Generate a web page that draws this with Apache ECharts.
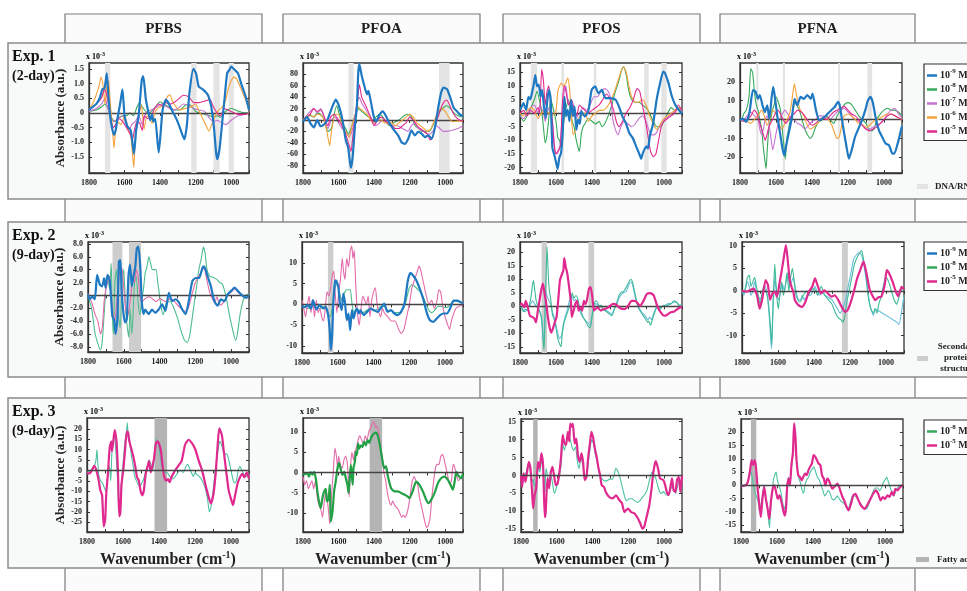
<!DOCTYPE html>
<html><head><meta charset="utf-8">
<script src="https://cdn.jsdelivr.net/npm/echarts@6/dist/echarts.min.js"></script>
<style>html,body{margin:0;padding:0;background:#fff}#chart{width:967px;height:591px}</style>
</head><body><div id="chart"></div><script>
// ---------- axis ticks ----------
const wavenumberLabels = [1800, 1600, 1400, 1200, 1000];
const wavenumberTicks = [1800, 1700, 1600, 1500, 1400, 1300, 1200, 1100, 1000, 900];
const compounds = ['PFBS', 'PFOA', 'PFOS', 'PFNA'];
const experiments = [['Exp. 1', '(2-day)'], ['Exp. 2', '(9-day)'], ['Exp. 3', '(9-day)']];
const bandKeys = ['DNA/RNA', 'Secondary\nprotein\nstructure', 'Fatty acids'];

const ticksE1PFBS = [-1.5, -1, -0.5, 0, 0.5, 1, 1.5];
const ticksE1PFOA = [-80, -60, -40, -20, 0, 20, 40, 60, 80];
const ticksE1PFOS = [-20, -15, -10, -5, 0, 5, 10, 15];
const ticksE1PFNA = [-20, -10, 0, 10, 20];
const ticksE2PFBS = [-8, -6, -4, -2, 0, 2, 4, 6, 8];
const ticksE2PFOA = [-10, -5, 0, 5, 10];
const ticksE2PFOS = [-15, -10, -5, 0, 5, 10, 15, 20];
const ticksE2PFNA = [-10, -5, 0, 5, 10];
const ticksE3PFBS = [-25, -20, -15, -10, -5, 0, 5, 10, 15, 20];
const ticksE3PFOA = [-10, -5, 0, 5, 10];
const ticksE3PFOS = [-15, -10, -5, 0, 5, 10, 15];
const ticksE3PFNA = [-15, -10, -5, 0, 5, 10, 15, 20];

// ---------- highlighted wavenumber bands ----------
const bandsE1PFBS = [[1710, 1680], [1225, 1195], [1100, 1065], [1015, 985]];
const bandsE1PFOA = [[1545, 1515], [1035, 975]];
const bandsE1PFOS = [[1740, 1705], [1570, 1555], [1390, 1375], [1110, 1085], [1015, 985]];
const bandsE1PFNA = [[1710, 1698], [1562, 1550], [1255, 1244], [1092, 1066]];
const bandsE2PFBS = [[1663, 1608], [1571, 1503]];
const bandsE2PFOA = [[1655, 1625]];
const bandsE2PFOS = [[1680, 1650], [1420, 1388]];
const bandsE2PFNA = [[1245, 1212]];
const bandsE3PFBS = [[1425, 1355]];
const bandsE3PFOA = [[1425, 1355]];
const bandsE3PFOS = [[1732, 1707]];
const bandsE3PFNA = [[1745, 1715]];

// ---------- Exp. 1 (2-day) spectra, [wavenumber, absorbance x1e-3] ----------
const e1PFBS_9 = [[1800,0.1],[1780,0.2],[1760,0.3],[1740,0.5],[1725,0.8],[1712,0.85],[1700,1.35],[1690,0.5],[1678,-0.25],[1660,-0.75],[1650,-0.6],[1640,-0.2],[1625,0.3],[1612,0.8],[1600,-0.1],[1585,-0.45],[1565,-0.6],[1547,-1.4],[1535,-0.6],[1521,-0.1],[1503,1.13],[1495,1.25],[1480,0.45],[1465,0],[1455,-0.25],[1445,-0.05],[1438,-0.3],[1428,-0.2],[1408,-1.35],[1386,0.1],[1367,0.45],[1348,0.28],[1330,0.05],[1311,-0.17],[1292,-0.45],[1264,-0.9],[1250,-0.45],[1235,0.68],[1213,1.5],[1198,1.35],[1183,0.9],[1160,0.8],[1132,0.62],[1113,0.23],[1098,-0.45],[1085,-1.35],[1079,-1.58],[1066,-1.24],[1051,-0.34],[1038,0.45],[1023,1.35],[1010,1.47],[1000,1.58],[981,1.47],[962,1.35],[944,1.0],[919,0.56],[900,0.1]];
const e1PFBS_8 = [[1800,0.05],[1760,0.1],[1730,0.2],[1710,0.3],[1690,0.1],[1670,-0.2],[1650,-0.3],[1630,-0.15],[1610,-0.1],[1590,-0.1],[1570,0],[1550,-0.1],[1530,0.2],[1515,0.35],[1500,0.2],[1480,0.05],[1460,0],[1440,0.1],[1420,0.25],[1400,0.38],[1380,0.3],[1350,0.2],[1320,0.1],[1290,0.1],[1260,0.25],[1240,0.3],[1220,0.2],[1200,0.05],[1180,0],[1150,-0.05],[1120,-0.1],[1100,-0.15],[1080,-0.1],[1060,-0.15],[1040,0],[1020,0.1],[1000,0.15],[970,0.08],[940,0.02],[900,0]];
const e1PFBS_7 = [[1800,0.05],[1760,0.15],[1730,0.3],[1710,0.5],[1700,0.3],[1680,-0.1],[1660,-0.3],[1640,-0.2],[1600,-0.1],[1575,-0.6],[1560,-0.4],[1540,-0.3],[1520,-0.1],[1500,-0.4],[1480,0],[1450,0.1],[1420,0.2],[1390,0.3],[1360,0.2],[1330,0.1],[1300,0.15],[1270,0.3],[1240,0.25],[1210,0.15],[1180,0.1],[1150,0.05],[1120,-0.2],[1100,-0.3],[1080,-0.25],[1050,-0.35],[1030,-0.4],[1000,-0.25],[960,-0.1],[920,-0.05],[900,0]];
const e1PFBS_6 = [[1800,0.1],[1780,0.3],[1760,0.6],[1740,1.0],[1732,1.22],[1720,0.9],[1710,0.3],[1700,0.9],[1690,1.1],[1680,0.3],[1668,-0.5],[1660,-1.2],[1650,-0.6],[1640,-0.3],[1620,-0.4],[1600,-0.1],[1585,-0.5],[1565,-0.8],[1548,-1.86],[1540,-0.8],[1525,-0.2],[1505,0.25],[1490,-0.55],[1475,-0.1],[1460,-0.2],[1445,-0.35],[1430,0],[1415,0.15],[1400,0.2],[1380,0.25],[1360,0.55],[1345,0.62],[1330,0.4],[1310,0.2],[1290,0.1],[1260,0.15],[1230,0.2],[1200,0.3],[1180,0.05],[1160,-0.2],[1140,-0.45],[1125,-0.62],[1110,-0.4],[1090,-0.1],[1070,0.1],[1050,0.2],[1030,0.45],[1015,0.85],[1000,1.1],[985,1.22],[970,1.15],[950,0.9],[930,0.6],[910,0.3],[900,0.15]];
const e1PFBS_5 = [[1800,0.1],[1760,0.3],[1730,0.5],[1712,0.8],[1700,0.6],[1690,0.3],[1680,-0.1],[1665,-0.5],[1650,-0.4],[1630,-0.2],[1610,-0.3],[1590,-0.5],[1570,-0.7],[1555,-0.9],[1545,-0.6],[1530,-0.3],[1515,-0.35],[1500,-0.6],[1490,-0.1],[1470,-0.2],[1450,-0.1],[1430,0.15],[1410,0.3],[1390,0.25],[1370,0.35],[1340,0.3],[1300,0.45],[1270,0.6],[1240,0.55],[1210,0.35],[1180,0.35],[1150,0.4],[1120,0.45],[1100,0.2],[1080,0],[1060,-0.1],[1040,0.15],[1020,0.1],[1000,0.05],[960,-0.05],[920,-0.05],[900,0]];

const e1PFOA_9 = [[1800,-3],[1777,5],[1758,-6],[1739,-13],[1720,0],[1701,-11],[1682,-8],[1663,0],[1645,15],[1626,30],[1616,36],[1597,24],[1578,0],[1559,-36],[1546,-48],[1531,-84],[1521,-66],[1508,-12],[1497,24],[1489,84],[1483,98],[1470,78],[1455,60],[1440,45],[1432,51],[1417,30],[1402,6],[1389,-3],[1370,9],[1351,15],[1332,6],[1313,-6],[1294,-15],[1265,-27],[1246,-39],[1227,-42],[1208,-33],[1190,-18],[1171,-27],[1152,-21],[1133,-24],[1114,-30],[1095,-27],[1076,-33],[1057,-12],[1038,24],[1023,48],[1009,57],[990,54],[971,39],[952,21],[933,15],[915,9],[900,7]];
const e1PFOA_8 = [[1800,0],[1760,8],[1740,5],[1720,12],[1700,10],[1680,0],[1660,-20],[1640,-15],[1625,10],[1610,25],[1600,15],[1580,-5],[1560,-15],[1545,-25],[1530,-15],[1515,0],[1500,15],[1485,20],[1470,15],[1450,10],[1430,5],[1410,0],[1390,5],[1370,10],[1350,5],[1330,-5],[1310,-10],[1290,-5],[1260,0],[1230,8],[1210,10],[1190,5],[1170,-10],[1150,-15],[1130,-20],[1110,-20],[1090,-20],[1070,-10],[1050,5],[1030,15],[1010,22],[990,25],[970,20],[950,12],[930,8],[900,5]];
const e1PFOA_7 = [[1800,0],[1760,15],[1740,20],[1720,12],[1700,20],[1680,5],[1660,-15],[1640,0],[1620,5],[1600,-5],[1580,-15],[1560,-20],[1540,-30],[1525,-20],[1510,0],[1495,30],[1483,40],[1470,30],[1450,20],[1430,10],[1410,0],[1390,-10],[1370,-5],[1350,0],[1330,-5],[1300,-10],[1270,-10],[1240,-15],[1210,-20],[1190,-10],[1170,-5],[1150,-15],[1120,-20],[1090,-25],[1070,-20],[1050,-10],[1030,-15],[1010,-20],[990,-20],[960,-18],[930,-15],[900,-10]];
const e1PFOA_6 = [[1800,0],[1760,10],[1740,5],[1720,10],[1700,8],[1680,0],[1660,-30],[1650,-45],[1640,-20],[1620,10],[1600,10],[1580,-10],[1560,-20],[1540,-30],[1525,-10],[1505,10],[1495,25],[1480,20],[1460,15],[1440,10],[1420,0],[1400,-5],[1380,0],[1360,0],[1340,-5],[1320,-5],[1300,-5],[1280,-10],[1260,-5],[1240,0],[1220,5],[1200,10],[1180,5],[1160,-5],[1140,-10],[1120,-15],[1100,-20],[1080,-15],[1060,0],[1040,15],[1020,20],[1000,15],[980,5],[960,-3],[930,-2],[900,-2]];
const e1PFOA_5 = [[1800,0],[1760,10],[1740,20],[1720,15],[1700,18],[1680,5],[1660,-10],[1645,5],[1625,10],[1600,0],[1580,-10],[1560,-25],[1545,-40],[1530,-55],[1520,-30],[1505,10],[1490,45],[1483,62],[1470,40],[1455,30],[1440,20],[1420,5],[1400,-10],[1380,0],[1360,5],[1340,0],[1320,-5],[1300,-10],[1280,-15],[1260,-15],[1240,-10],[1220,-5],[1200,5],[1180,0],[1160,-10],[1140,-15],[1120,-20],[1100,-25],[1085,-35],[1070,-30],[1055,-10],[1040,5],[1025,20],[1010,30],[995,35],[980,30],[960,15],[940,5],[920,0],[900,-2]];

const e1PFOS_9 = [[1800,1.2],[1790,2.4],[1781,3.7],[1766,1.2],[1753,6],[1743,5],[1734,7.3],[1724,10.4],[1715,14],[1705,9.8],[1696,10.5],[1686,6],[1677,8.5],[1667,2.4],[1658,-1.8],[1648,4.9],[1639,8.5],[1630,5.5],[1620,-12.8],[1610,-15.2],[1601,-17.7],[1591,-20.5],[1582,-16.5],[1572,-14.6],[1563,-7.3],[1553,6],[1544,-1.2],[1535,1.2],[1525,-3],[1516,4.9],[1506,-1.2],[1497,2.4],[1487,-6.1],[1478,-2.4],[1468,-4],[1459,0.6],[1440,-1.2],[1421,0.6],[1402,8.5],[1383,9.8],[1364,7.3],[1345,8.5],[1326,5.5],[1298,5.5],[1269,4.9],[1250,2.4],[1231,-1.2],[1212,-3.7],[1193,-7.3],[1174,-9.1],[1155,-12.2],[1136,-15.2],[1127,-16.8],[1117,-14.6],[1098,-12.2],[1089,-13],[1079,-8.5],[1060,-3.7],[1041,4.9],[1022,11],[1004,15.2],[994,14.6],[975,11],[956,6.1],[937,3],[918,1.2],[900,-0.2]];
const e1PFOS_8 = [[1800,0],[1790,-2],[1780,-3],[1760,-1],[1740,2],[1720,5],[1705,8],[1690,4],[1680,1],[1670,-5],[1660,-11],[1650,-8],[1640,-2],[1630,5],[1620,3],[1600,-3],[1590,-9],[1580,-10],[1570,-13],[1560,-5],[1550,0],[1540,3],[1530,5],[1520,0],[1510,-3],[1500,-5],[1490,-9],[1480,-12],[1470,-14],[1460,-8],[1450,-5],[1440,-4],[1420,-2],[1400,-3],[1380,-4],[1360,-3],[1345,-5],[1330,-4],[1310,-1],[1290,3],[1270,8],[1250,12],[1235,16],[1225,17],[1210,14],[1195,8],[1180,5],[1160,4],[1140,4],[1120,3],[1100,2],[1080,0],[1060,-3],[1040,-5],[1020,-5],[1000,-3],[980,0],[960,2],[940,1],[920,2],[900,0]];
const e1PFOS_7 = [[1800,-1],[1780,-2],[1760,0],[1740,2],[1720,3],[1700,0],[1690,3],[1670,0],[1660,-3],[1640,2],[1620,-3],[1605,-14],[1595,-15],[1580,-13],[1570,-5],[1555,8],[1545,10],[1535,5],[1520,2],[1500,0],[1490,-2],[1470,0],[1450,2],[1430,1],[1410,3],[1390,6],[1370,6],[1350,8],[1330,9],[1310,8],[1295,5],[1285,-2],[1270,-6],[1255,-8],[1240,-5],[1220,-3],[1200,-4],[1180,-5],[1160,-4],[1140,-2],[1120,-1],[1100,-3],[1085,-6],[1070,-8],[1055,-8],[1040,-7],[1025,-5],[1010,-3],[990,-2],[970,-1],[950,0],[930,1],[915,2],[900,0]];
const e1PFOS_6 = [[1800,0],[1780,-1],[1760,1],[1740,2],[1720,1],[1700,-2],[1680,0],[1660,1],[1640,0],[1620,-1],[1600,1],[1590,8],[1580,10],[1570,11],[1560,10],[1545,11],[1535,13],[1525,9],[1515,0],[1505,-8],[1490,-6],[1475,-2],[1460,-1],[1440,0],[1420,-3],[1400,-1],[1380,0],[1360,1],[1340,1],[1320,2],[1300,4],[1280,7],[1260,11],[1240,15],[1225,17],[1210,15],[1195,10],[1180,6],[1160,4],[1140,4],[1120,5],[1100,3],[1080,-1],[1060,-4],[1040,-6],[1020,-4],[1000,-2],[980,-1],[960,0],[940,1],[920,2],[900,1]];
const e1PFOS_5 = [[1800,0],[1780,1],[1760,-1],[1740,1],[1720,0],[1700,2],[1690,0],[1680,16],[1670,12],[1660,3],[1650,8],[1640,10],[1630,3],[1620,-3],[1610,-12],[1600,-15],[1590,-14],[1575,-12],[1565,3],[1555,10],[1545,8],[1530,3],[1515,5],[1500,2],[1485,-1],[1470,3],[1455,2],[1440,1],[1420,0],[1400,1],[1380,2],[1360,3],[1340,5],[1320,7],[1300,5],[1280,1],[1265,-3],[1250,-5],[1230,-3],[1210,0],[1190,2],[1170,5],[1150,9],[1135,8],[1120,3],[1105,-2],[1090,-8],[1075,-14],[1060,-16],[1045,-15],[1030,-10],[1015,-5],[1000,-3],[980,-2],[960,-1],[940,0],[920,3],[900,1]];

const e1PFNA_9 = [[1800,-0.4],[1785,0.5],[1766,-1.2],[1747,4],[1728,15.6],[1713,14.7],[1700,11],[1690,13],[1675,7.6],[1662,4],[1649,7.6],[1637,0.5],[1624,12],[1615,17.3],[1605,11],[1592,1.4],[1577,-7.4],[1564,-15.4],[1554,-19],[1545,-14.5],[1530,-7.4],[1511,1.4],[1497,11],[1482,7.6],[1463,12],[1445,11],[1426,13],[1407,11],[1397,13.8],[1378,5],[1359,-0.4],[1331,1.4],[1312,3.2],[1293,5],[1274,6.7],[1255,9.4],[1246,7.6],[1227,-3.9],[1208,-14.5],[1195,-20.7],[1180,-16.3],[1161,-9.2],[1142,-4.8],[1123,-0.4],[1104,5],[1089,10.3],[1076,12],[1063,9.4],[1047,1.4],[1028,-5.7],[1010,-9.2],[991,-12.7],[972,-13.6],[953,-18],[943,-18],[924,-12.7],[906,-5.7],[900,-3.5]];
const e1PFNA_8 = [[1800,0],[1790,0],[1780,3],[1765,5],[1750,12],[1740,27],[1730,25],[1720,15],[1710,8],[1700,5],[1690,0],[1680,-5],[1670,-15],[1660,-23],[1655,-26],[1648,-15],[1640,-5],[1630,0],[1620,5],[1610,8],[1600,12],[1590,10],[1575,5],[1565,-5],[1555,-15],[1548,-21],[1540,-10],[1530,-5],[1520,0],[1505,5],[1495,10],[1485,8],[1470,5],[1455,0],[1440,-5],[1425,-8],[1410,-10],[1395,-8],[1380,-4],[1360,-1],[1340,0],[1320,2],[1300,0],[1280,-2],[1260,2],[1240,5],[1220,8],[1200,9],[1180,8],[1160,5],[1140,2],[1120,0],[1100,-2],[1085,-5],[1070,-6],[1055,-5],[1040,0],[1020,3],[1000,5],[980,6],[960,5],[940,5],[920,4],[900,2]];
const e1PFNA_7 = [[1800,0],[1780,0],[1760,2],[1740,4],[1720,2],[1700,0],[1690,-5],[1680,-8],[1670,-5],[1660,0],[1650,2],[1635,-5],[1625,-12],[1618,-16],[1605,-10],[1595,-5],[1580,0],[1565,3],[1550,5],[1535,3],[1520,1],[1500,0],[1480,-2],[1460,-3],[1440,-5],[1420,-3],[1400,-1],[1380,0],[1360,2],[1340,2],[1320,1],[1300,0],[1280,2],[1260,4],[1240,5],[1220,6],[1200,4],[1180,2],[1160,0],[1140,-1],[1120,-3],[1100,-5],[1080,-5],[1060,-4],[1040,-3],[1020,-2],[1000,0],[980,3],[960,5],[940,6],[920,3],[900,1]];
const e1PFNA_6 = [[1800,0],[1780,0],[1760,-1],[1740,-2],[1720,0],[1700,2],[1680,5],[1665,2],[1650,-3],[1635,0],[1620,5],[1600,3],[1580,-3],[1570,-5],[1555,-3],[1540,0],[1525,3],[1515,8],[1505,15],[1498,19],[1490,15],[1480,10],[1465,5],[1450,3],[1430,-2],[1410,-5],[1390,-4],[1370,-2],[1350,0],[1330,1],[1310,0],[1290,-3],[1275,-7],[1260,-10],[1248,-9],[1235,-3],[1220,2],[1200,3],[1180,2],[1160,0],[1140,-2],[1120,-3],[1100,-4],[1080,-3],[1060,-1],[1040,0],[1020,1],[1000,2],[980,3],[960,3],[940,2],[920,1],[900,0]];
const e1PFNA_5 = [[1800,0],[1780,-1],[1760,0],[1740,2],[1720,5],[1705,3],[1690,-2],[1680,-5],[1670,-8],[1660,-11],[1650,-8],[1640,-4],[1630,-2],[1620,0],[1605,3],[1590,5],[1575,3],[1560,0],[1545,-2],[1530,0],[1515,2],[1500,3],[1480,5],[1460,4],[1440,2],[1420,-1],[1400,-3],[1380,-2],[1360,0],[1340,1],[1320,0],[1300,2],[1280,4],[1260,5],[1240,6],[1220,7],[1200,5],[1180,3],[1160,2],[1140,0],[1120,-3],[1100,-5],[1080,-6],[1060,-5],[1040,-4],[1020,-2],[1000,0],[980,2],[960,3],[940,2],[920,1],[900,0]];

// ---------- Exp. 2 (9-day) spectra ----------
const e2PFBS_9 = [[1800,0.15],[1791,-0.6],[1777,-0.2],[1762,-0.6],[1749,3.2],[1734,1.7],[1721,1.4],[1710,2.7],[1702,1.2],[1691,3.2],[1678,2.2],[1664,-3.2],[1653,-3.9],[1646,-6],[1636,-3.7],[1627,5.3],[1619,5.5],[1612,0.7],[1602,-2.7],[1593,-4.2],[1583,-3.7],[1574,3],[1565,4.8],[1555,1.4],[1546,3],[1536,4.3],[1527,7.3],[1518,7.6],[1508,4.5],[1499,-1.1],[1489,-2.9],[1480,-2.2],[1461,-2.9],[1442,-2.2],[1424,-2.7],[1405,-2.2],[1386,-1.4],[1367,-2.4],[1348,0.4],[1330,-0.9],[1311,-0.6],[1292,-1.1],[1273,-2.2],[1254,-2.9],[1235,-0.6],[1217,2.2],[1198,2.7],[1179,2.7],[1160,4.3],[1151,4.5],[1132,3],[1113,1.4],[1094,-0.9],[1075,-1.6],[1057,-0.6],[1038,-0.9],[1019,0.15],[1000,0.7],[981,1.2],[962,0.7],[944,0.15],[915,-0.4],[900,0]];
const e2PFBS_8 = [[1800,0],[1790,-1],[1780,-2],[1770,-4],[1760,-6],[1745,-7.5],[1730,-8.5],[1720,-7],[1710,-3],[1700,1],[1690,3],[1680,1],[1670,5],[1665,-2],[1658,-6],[1650,2],[1640,4],[1630,-3],[1620,-5],[1610,2],[1600,4],[1590,-2],[1580,-5],[1572,-6.5],[1565,-2],[1555,-6],[1548,-3],[1540,2],[1530,3],[1520,-1],[1510,-3],[1500,-1],[1490,1],[1480,3.5],[1470,4.5],[1460,6],[1450,5],[1440,4],[1420,4],[1410,2],[1400,0],[1390,-2],[1380,-3],[1370,-2],[1360,-1],[1340,-1],[1320,-2],[1300,-3.5],[1280,-5.5],[1260,-7],[1245,-7.3],[1230,-6],[1215,-3],[1200,0],[1190,2],[1180,4],[1165,6],[1155,7.5],[1145,6.5],[1135,4],[1120,3],[1100,2.8],[1080,2.5],[1065,2],[1050,1.8],[1030,0],[1010,-3],[990,-5.5],[975,-7],[965,-6],[950,-3],[935,-1],[920,0],[900,0.2]];
const e2PFBS_5 = [[1800,0.3],[1790,-0.5],[1780,-1],[1770,-2],[1760,-3],[1745,-4],[1730,-6],[1720,-5],[1710,-1],[1700,1],[1690,2],[1680,3],[1670,0],[1660,-3],[1650,-4],[1640,-1],[1630,2],[1620,4],[1610,4.2],[1600,1],[1590,-2],[1580,-3.5],[1570,-2],[1560,0],[1550,3],[1540,2],[1530,4],[1520,3],[1510,0],[1500,-1],[1480,-0.5],[1460,-0.2],[1440,-0.5],[1420,-1],[1400,-0.5],[1380,-0.8],[1360,-1],[1340,-0.5],[1320,-0.8],[1300,-1.5],[1280,-2],[1260,-2.5],[1240,-2],[1220,0],[1200,2],[1180,3],[1160,4],[1150,4.2],[1140,3],[1120,0.5],[1105,-0.5],[1090,-1],[1080,-0.2],[1070,-1],[1060,-1.5],[1040,-1],[1020,0],[1000,0.5],[980,1],[960,0.5],[940,0],[920,-0.3],[900,-0.2]];

const e2PFOA_9 = [[1800,-0.4],[1787,-0.7],[1768,-0.2],[1749,-1],[1739,1],[1720,-1.2],[1701,-0.2],[1682,-1],[1667,-0.6],[1654,-2.6],[1645,-6.2],[1639,-11],[1631,-7],[1626,-0.6],[1616,5.4],[1610,5.8],[1597,4.2],[1588,0.2],[1578,-1.4],[1569,2.6],[1559,0.2],[1550,-3.8],[1540,-2.2],[1531,-6.2],[1521,-1.4],[1512,-3.4],[1502,-1.8],[1493,-1],[1483,-2.2],[1474,-1.4],[1455,-2.6],[1436,-1.8],[1417,-1],[1398,-1.4],[1379,-1.8],[1360,-1],[1341,0.2],[1322,-1.8],[1303,-1.4],[1284,-2.2],[1265,-2.6],[1246,-1.8],[1227,0.2],[1208,5.8],[1193,7.6],[1180,7],[1161,5.8],[1142,3.8],[1123,1.4],[1104,-1.8],[1085,-3.8],[1066,-4.2],[1047,-3.4],[1028,-2.6],[1009,-2.2],[990,-2.2],[972,-1],[953,0.9],[933,0.9],[915,0.6],[900,0.2]];
const e2PFOA_8 = [[1800,-0.5],[1780,-0.8],[1760,-1],[1740,0],[1720,-1],[1700,-1],[1680,-0.5],[1660,-1.5],[1645,-3],[1635,-2],[1625,1],[1615,4],[1605,5],[1595,4],[1580,1],[1570,2],[1560,3],[1550,3.5],[1540,3.5],[1530,3.5],[1520,0],[1510,-2],[1495,-1],[1480,-1.5],[1460,-2],[1440,-1.5],[1420,-1],[1400,-1.5],[1380,-1.2],[1360,-0.5],[1340,-0.5],[1320,-1.5],[1300,-1.5],[1280,-2],[1260,-2],[1240,-1.5],[1220,0.5],[1200,4],[1185,4.7],[1170,4.3],[1150,3.5],[1130,2.5],[1110,0.5],[1090,-1.5],[1075,-2],[1060,-1.5],[1040,-0.5],[1020,-0.5],[1000,-0.8],[980,-0.5],[960,0.5],[940,0.8],[920,0.5],[900,0.3]];
const e2PFOA_5 = [[1800,1],[1790,-1],[1780,-3],[1770,0],[1760,2],[1750,-2],[1740,1],[1730,-3],[1720,1],[1710,-2],[1700,-1],[1690,-3],[1680,-4],[1670,-1],[1660,3],[1650,2],[1640,4],[1630,7],[1622,8],[1615,3],[1605,-2],[1595,3],[1585,6],[1575,11],[1568,8],[1560,6],[1550,11],[1540,9],[1530,13],[1522,14],[1515,11],[1508,13],[1500,5],[1490,-2],[1480,-5],[1470,-1],[1460,2],[1450,1],[1440,0],[1430,2],[1420,-3],[1410,1],[1400,3],[1390,4],[1380,0],[1370,-2],[1360,-3],[1350,-1],[1340,-2],[1320,-3],[1300,-4],[1280,-4],[1260,-6],[1245,-7],[1230,-6],[1215,-3],[1200,0],[1185,4],[1170,6],[1155,8],[1145,9.2],[1135,8],[1120,5],[1105,2],[1090,0],[1075,1],[1060,-1],[1045,1],[1035,3.5],[1025,3],[1015,0],[1000,-3],[985,-5],[975,-6],[965,-4],[950,-2],[940,-1],[925,-0.5],[900,-0.2]];

const e2PFOS_9 = [[1800,0.5],[1790,-0.5],[1780,-1.5],[1770,-2],[1760,-1],[1750,0],[1740,1],[1730,2],[1720,1],[1710,0],[1700,-1],[1690,-2],[1680,-4],[1672,-10],[1667,-15],[1663,-8],[1660,2],[1655,5],[1650,4],[1640,2],[1630,1],[1620,-2],[1610,-4],[1600,-7],[1590,-10],[1580,-12],[1570,-11],[1560,-7],[1550,-4],[1540,-2],[1530,1],[1520,3],[1510,3.5],[1500,2],[1490,2.5],[1480,1],[1470,-1],[1460,-3],[1450,-4],[1440,-5],[1425,-6],[1410,-7],[1400,-3],[1390,-0.5],[1380,1],[1370,0.5],[1360,-0.5],[1350,0],[1340,-1],[1320,-1.5],[1300,-2.5],[1290,-3],[1280,-1.5],[1270,0],[1260,1],[1250,3],[1240,4],[1225,5],[1210,5.5],[1195,8],[1185,9],[1175,8],[1165,5],[1155,2],[1145,0],[1130,-1.5],[1120,-2.5],[1110,-3],[1100,-4],[1090,-5],[1080,-4],[1070,-5],[1060,-3],[1050,-1.5],[1040,0],[1025,-0.5],[1010,0],[1000,0],[990,0.5],[975,1],[960,1],[945,1.5],[930,1.5],[915,0],[900,0.5]];
const e2PFOS_8 = [[1800,0],[1790,-1],[1780,-2],[1770,-1],[1760,-1.5],[1750,0],[1740,3],[1730,8],[1725,9.5],[1718,6],[1710,2],[1700,0],[1690,-2],[1680,-5],[1672,-12],[1667,-16],[1663,-10],[1660,0],[1655,12],[1650,22],[1645,15],[1640,8],[1635,5],[1630,3],[1620,-3],[1610,-5],[1600,-8],[1590,-12],[1580,-14],[1572,-15],[1565,-10],[1555,-6],[1545,-4],[1535,-2],[1525,0],[1515,3],[1510,5],[1500,3],[1490,4],[1480,3],[1470,0],[1460,-2],[1450,-4],[1440,-5],[1425,-7],[1410,-8],[1400,-4],[1390,0],[1380,2],[1370,1.5],[1360,0],[1350,0.5],[1340,-1],[1320,-2],[1300,-3],[1290,-3.5],[1280,-2],[1270,0],[1260,2],[1250,4],[1240,5],[1225,5.5],[1210,7],[1195,9],[1185,10],[1175,9],[1165,6],[1155,3],[1145,0],[1130,-2],[1120,-3],[1110,-4],[1100,-5],[1090,-6],[1085,-5.5],[1075,-7],[1065,-5],[1055,-3],[1045,-1],[1035,0],[1020,-1],[1010,0],[1000,0.5],[990,0],[975,0.5],[960,1],[945,2],[930,1.5],[915,0.5],[900,0.5]];
const e2PFOS_5 = [[1800,0.5],[1791,1],[1777,-0.4],[1768,2],[1758,0],[1745,-3.5],[1730,-4],[1720,-4.5],[1711,-6],[1701,-1.6],[1692,2],[1682,6],[1673,8.4],[1664,5],[1654,1],[1645,-4],[1635,-8],[1626,-9.8],[1616,-8],[1607,-6],[1597,-4],[1588,2],[1578,9.6],[1569,11.5],[1559,13.4],[1554,17.8],[1546,14.6],[1537,12],[1527,7],[1517,1.5],[1512,-4],[1502,-1.6],[1493,0.9],[1483,2],[1474,-1.6],[1464,-0.4],[1455,-1.6],[1445,2],[1436,0.8],[1427,2.7],[1417,6.5],[1408,7.1],[1398,3.4],[1389,-1.6],[1370,-0.4],[1351,-1.6],[1332,-1],[1313,-0.6],[1284,0.9],[1265,0.6],[1246,-0.6],[1218,-1],[1199,0.2],[1180,2],[1161,2],[1133,0.2],[1114,2],[1095,4.6],[1076,4.9],[1057,4],[1038,0.2],[1019,-2.2],[1000,-3.5],[981,-3.1],[962,-2.2],[943,-1.9],[924,-1],[900,-0.1]];

const e2PFNA_9 = [[1800,0],[1790,-1],[1780,0.5],[1770,2],[1760,1],[1750,-1],[1740,0],[1730,2],[1720,0],[1710,-1],[1700,-2],[1690,-1],[1680,0.5],[1670,1],[1660,-1],[1650,-5],[1642,-10],[1636,-13],[1630,-7],[1625,-2],[1618,3],[1612,1],[1605,-1],[1595,-2],[1585,0],[1575,1.5],[1565,0],[1555,2],[1545,4],[1535,1],[1525,2],[1515,3],[1505,1],[1495,-1],[1485,-2],[1475,-2],[1465,-1],[1455,-2],[1445,-1.5],[1435,-1],[1420,-1],[1405,0],[1395,1],[1385,0],[1370,-1],[1355,-0.5],[1340,-1],[1320,-1.5],[1300,-2],[1285,-3],[1270,-4],[1255,-5],[1240,-4],[1225,-2],[1210,1],[1195,4],[1180,7],[1165,8],[1150,8.5],[1135,8],[1120,5],[1105,1],[1090,-3],[1080,-4.5],[1070,-5.5],[1060,-4],[1040,-4.5],[1020,-5],[1000,-5.5],[980,-6],[960,-6.5],[940,-7],[928,-7.5],[915,-5],[900,-1]];
const e2PFNA_8 = [[1800,0],[1790,-0.5],[1780,1],[1770,3],[1760,3.5],[1750,1],[1740,2],[1730,3],[1720,1],[1710,-1],[1700,-3],[1690,-1],[1680,1],[1670,0],[1660,-1],[1650,-4],[1640,-9],[1635,-12],[1630,-6],[1625,0],[1618,6],[1612,2],[1605,-2],[1598,-4],[1590,-1],[1580,2],[1570,-1],[1560,1],[1550,4],[1540,0],[1530,3],[1520,5],[1510,2],[1500,-1],[1490,-2],[1480,-2.5],[1470,-2],[1460,-1],[1450,-0.5],[1440,0],[1430,-1],[1420,0],[1400,0.5],[1390,0],[1380,-1],[1370,0],[1360,1],[1340,-1],[1320,-2],[1300,-3],[1290,-4],[1280,-5],[1265,-6],[1250,-6.5],[1240,-7],[1230,-6],[1220,-3],[1205,0],[1190,3],[1175,6],[1160,7.5],[1145,8.5],[1135,9],[1125,7],[1110,3],[1100,-1],[1085,-4],[1070,-5],[1060,-4],[1050,-5],[1040,-3],[1025,-1],[1010,2],[1000,3],[985,2],[970,0],[955,-2],[940,-3],[925,-1],[910,0.5],[900,0]];
const e2PFNA_5 = [[1800,0],[1775,-0.2],[1756,0.1],[1737,0.5],[1717,-1],[1702,-4],[1688,-2],[1669,2.4],[1656,1.3],[1644,-2],[1631,-0.6],[1617,-0.2],[1606,-1.3],[1592,1.6],[1579,4.6],[1567,7.6],[1556,10.2],[1544,6.1],[1535,2.4],[1525,0.9],[1515,-0.2],[1506,-2.1],[1487,-3.2],[1467,-3.6],[1448,-2.5],[1429,-0.2],[1410,0.9],[1394,2.8],[1381,1.3],[1362,-0.6],[1342,0.1],[1323,-0.6],[1304,-1.3],[1285,-1],[1265,-2.1],[1246,-3.6],[1227,-4.7],[1213,-4.3],[1198,-2.8],[1179,-0.2],[1160,2.8],[1140,5],[1125,6.5],[1112,4.6],[1092,0.5],[1073,-1.3],[1060,-2.1],[1044,-1.5],[1025,-1.3],[1006,1.6],[996,4.6],[983,3.9],[963,2],[948,0.1],[933,-1.2],[913,0.9],[900,0.3]];

// ---------- Exp. 3 (9-day) spectra ----------
const e3PFBS_8 = [[1800,-1],[1780,0],[1770,1],[1760,2],[1750,5],[1745,10],[1740,4],[1735,-2],[1725,-5],[1715,-6],[1705,-8],[1695,-10],[1685,-3],[1675,2],[1668,-5],[1662,8],[1655,13],[1648,18],[1640,10],[1632,-2],[1625,-15],[1618,-18],[1612,-10],[1605,-2],[1598,5],[1590,13],[1580,19],[1576,23],[1570,15],[1562,13],[1555,8],[1545,3],[1535,-3],[1525,-5],[1515,-7],[1505,-7.5],[1495,-6],[1485,-4],[1475,-1],[1465,2],[1455,5],[1445,3],[1435,0],[1425,9],[1415,15],[1405,13],[1395,8],[1385,2],[1375,0],[1365,-1],[1355,-1],[1340,-3],[1325,-4],[1310,-3],[1295,-1],[1280,0],[1265,-1],[1250,2],[1240,3],[1230,1],[1220,-1],[1210,-3],[1200,-1],[1190,-2],[1175,-3],[1160,-5],[1145,-8],[1130,-14],[1120,-20],[1112,-18],[1100,-10],[1090,-2],[1080,5],[1070,11],[1062,14],[1055,13],[1045,10],[1035,8],[1025,8],[1015,6],[1000,0],[990,-4],[980,-6],[970,-5],[960,0],[950,2],[940,0],[925,-2],[910,-3],[900,-3]];
const e3PFBS_5 = [[1800,-1.4],[1785,-1.4],[1770,0.6],[1760,2.2],[1747,-0.2],[1735,-4.9],[1726,-9.6],[1716,-12],[1707,-27],[1699,-23.8],[1693,-11.2],[1684,-1.7],[1674,10.9],[1665,14],[1661,9.3],[1653,14.8],[1646,19.5],[1636,14],[1627,-3.3],[1621,-22.2],[1615,-20.6],[1608,-6.5],[1598,0.6],[1589,9.3],[1579,18.7],[1573,18.7],[1566,14.8],[1560,12.4],[1550,9.3],[1541,6.1],[1531,1.4],[1522,-3.3],[1512,-4.9],[1503,-9.6],[1493,-12],[1484,-9.6],[1474,-1.7],[1465,1.4],[1455,4.6],[1446,-0.9],[1436,2.2],[1427,6.1],[1417,13.2],[1408,14],[1398,12.4],[1389,9.3],[1379,1.4],[1370,-3.3],[1360,-4.9],[1350,-4.2],[1341,-5.7],[1331,-3.3],[1312,-0.2],[1293,2.2],[1274,4.6],[1255,12.4],[1236,14.8],[1217,13.2],[1198,10.1],[1179,4.6],[1160,-0.2],[1141,-7.2],[1122,-13.5],[1112,-15.9],[1097,-11.2],[1084,-0.2],[1074,12.4],[1065,20.3],[1051,17.2],[1040,9.3],[1027,-0.2],[1013,-9.6],[998,-14.3],[989,-16.7],[979,-12.8],[964,-6.5],[950,-3.3],[937,-1.7],[926,-3.3],[912,-0.9],[900,-4]];

const e3PFOA_8 = [[1800,-0.5],[1794,-0.4],[1776,-0.2],[1766,-1],[1757,0.1],[1747,-0.5],[1738,0.2],[1728,-1.4],[1719,-4.6],[1710,-7.1],[1700,-8.7],[1691,-6.3],[1681,-4.6],[1672,-4],[1666,-7.1],[1657,-6.7],[1649,-3],[1644,-12],[1634,-9.5],[1625,-4.6],[1616,-2.2],[1606,1.1],[1597,2.3],[1587,0.7],[1578,-0.6],[1568,0.2],[1559,-1.4],[1550,-3],[1544,-5],[1539,-2.2],[1531,1.9],[1521,-3],[1516,1.1],[1508,2.7],[1503,5.1],[1497,4.3],[1490,7.2],[1484,5.9],[1474,6.7],[1465,6.3],[1456,7.6],[1446,6.7],[1437,8],[1428,7.3],[1418,8.4],[1409,9.2],[1399,9.6],[1390,9.8],[1380,9.2],[1371,7.6],[1361,5.1],[1352,2.7],[1343,1.1],[1333,1.5],[1324,-0.6],[1305,-3.8],[1286,-4.6],[1267,-4.6],[1249,-5],[1230,-5.4],[1211,-5.9],[1202,-6.3],[1183,-4.6],[1164,-2.2],[1145,-3],[1126,-4.6],[1107,-6.7],[1094,-7.5],[1079,-6.7],[1060,-5],[1041,-2.6],[1023,-1.4],[1004,-1],[985,-1.8],[966,-3.4],[957,-4.2],[947,-2.2],[938,0.2],[929,-0.6],[910,-1.4],[900,-0.2]];
const e3PFOA_5 = [[1800,-1],[1790,-3],[1780,-2],[1770,-4],[1760,-3],[1750,-2],[1740,-4],[1730,-2],[1720,-6],[1710,-8],[1700,-9],[1690,-11],[1680,-7],[1670,-4],[1660,-8],[1655,-10],[1650,-12.5],[1645,-11],[1640,-6],[1630,0],[1620,6],[1612,4],[1605,1],[1600,4],[1590,2],[1580,1],[1570,3],[1560,4],[1550,2],[1540,-6],[1535,-1],[1530,3],[1525,5],[1515,3],[1510,5],[1500,6],[1490,8],[1480,9],[1470,8],[1460,7],[1450,9],[1440,8],[1430,10],[1420,11],[1410,12],[1400,12.5],[1392,11],[1385,11.5],[1375,10],[1365,7],[1355,4],[1345,0],[1335,-2],[1325,-5],[1315,-7],[1305,-8],[1295,-7],[1285,-8],[1275,-8.5],[1265,-9],[1255,-10],[1245,-11],[1235,-10.5],[1225,-11],[1215,-10],[1205,-8],[1195,-5],[1185,-2],[1175,-1],[1165,-2],[1155,-3],[1145,-6],[1135,-8],[1125,-10],[1115,-12],[1105,-13.5],[1095,-13],[1085,-11],[1075,-6],[1065,-2],[1055,1],[1045,2],[1035,2],[1025,4],[1015,4.5],[1005,3],[995,1],[985,-1],[975,-3],[965,-2],[955,2],[945,1],[935,-1],[925,-2],[915,-1.5],[900,-1]];

const e3PFOS_8 = [[1800,0],[1790,-2],[1780,0],[1770,1],[1760,3],[1750,2],[1740,-2],[1732,-1],[1725,-3],[1715,-2],[1705,2],[1695,1],[1685,4],[1675,2],[1667,-5],[1660,2],[1652,0],[1643,-2],[1633,0],[1624,-2],[1614,-5],[1605,-4],[1595,-2],[1585,0],[1576,3],[1567,9],[1557,7],[1545,10],[1535,11],[1525,10],[1515,8],[1505,7],[1495,8],[1485,4],[1475,2],[1465,5],[1455,3],[1445,0],[1435,-1],[1425,3],[1415,7],[1405,10],[1395,9],[1385,6],[1375,4],[1365,1],[1355,-0.5],[1345,-1],[1335,-1.5],[1320,-1.5],[1305,-1],[1290,-1],[1280,0],[1270,2],[1262,1.5],[1250,0],[1240,-2],[1230,-4],[1220,-6],[1210,-7],[1195,-6.5],[1180,-6.5],[1165,-7],[1150,-7.5],[1135,-7],[1120,-6],[1105,-5],[1095,-4],[1085,-2],[1075,0],[1065,1],[1055,0],[1045,-1],[1035,-3],[1025,-4.5],[1015,-5],[1005,-4.5],[995,-5],[985,-5.5],[975,-5],[965,-4],[955,-3],[945,-4],[935,-5],[925,-3],[915,-1],[905,-3],[900,-1]];
const e3PFOS_5 = [[1800,0],[1794,-3.2],[1785,0.6],[1775,-1.8],[1766,1],[1756,3.8],[1747,2],[1737,-5.5],[1732,-9.2],[1724,-5.5],[1715,-3.6],[1705,3.8],[1696,2],[1686,6.2],[1677,3.4],[1667,-11.6],[1662,-10.2],[1652,-0.8],[1643,-3.6],[1633,1],[1624,2.4],[1614,-0.4],[1605,-2.7],[1595,-2.2],[1586,0.6],[1576,5.2],[1567,11.3],[1557,8.9],[1548,8.5],[1538,12.2],[1530,9.5],[1525,14.5],[1516,13.6],[1510,14.5],[1500,8.9],[1491,10.3],[1481,5.2],[1472,3.8],[1462,6.2],[1453,3.8],[1444,-1.3],[1434,-0.4],[1425,4.8],[1415,8.9],[1406,12.2],[1396,10.3],[1387,7.5],[1377,5.2],[1368,2.4],[1358,0.1],[1349,-2.7],[1336,-3.2],[1326,-4.6],[1307,-6],[1288,-6.4],[1269,-5.5],[1250,-6.9],[1235,-7.8],[1222,-10.2],[1203,-9.2],[1184,-10.2],[1165,-10.6],[1146,-12],[1133,-13.4],[1121,-14.8],[1112,-14.4],[1098,-11.6],[1083,-8.3],[1070,-3.6],[1061,0.6],[1051,3.4],[1046,4],[1032,1.5],[1023,-0.8],[1004,-1.3],[994,-2.7],[985,-4.6],[975,-5.5],[966,-3.6],[956,-0.8],[947,-4.1],[937,-4.6],[928,-1.3],[918,-0.4],[909,-4.6],[900,0.1]];

const e3PFNA_8 = [[1800,0],[1780,0],[1765,1],[1755,3],[1745,5],[1735,2],[1725,-2],[1715,-4],[1705,-6],[1697,-10],[1690,-8],[1680,-3],[1672,0],[1665,-4],[1655,-7],[1648,-12],[1642,-16],[1636,-10],[1628,-3],[1620,2],[1612,4],[1605,5],[1598,2],[1590,0],[1580,-2],[1570,-6],[1560,-9],[1552,-7],[1545,-1],[1537,3],[1528,2],[1520,6],[1512,12],[1505,22],[1497,16],[1490,8],[1480,3],[1470,1],[1460,-2],[1452,-3],[1445,0],[1435,2],[1425,3],[1415,5],[1405,6],[1395,7],[1385,5],[1375,3],[1365,2],[1355,0],[1345,-2],[1335,-4],[1325,-3],[1315,-2],[1305,-3],[1295,-5],[1285,-5.5],[1275,-5],[1265,-4],[1255,-5],[1245,-6],[1235,-6.5],[1225,-7],[1215,-8],[1205,-9],[1195,-7],[1180,-4],[1165,-4],[1150,-5.5],[1135,-7],[1120,-8.5],[1105,-9],[1095,-8],[1085,-6],[1070,-3],[1055,-1],[1040,-1],[1030,-2],[1020,-1],[1010,1],[1000,2],[990,3],[980,1],[970,-1],[960,-3],[950,-4],[940,-2],[930,-1],[920,0],[900,0]];
const e3PFNA_5 = [[1800,-0.3],[1775,0],[1762,1.3],[1751,5],[1741,9.5],[1732,7.6],[1724,9.5],[1717,7],[1709,0],[1700,-6.3],[1690,-12],[1681,-5.1],[1671,-0.6],[1662,-5.1],[1652,-8.9],[1643,-12.7],[1634,-6.3],[1624,-1.3],[1615,0],[1605,-2.5],[1596,-5.1],[1586,-3.8],[1577,-5.7],[1567,-8.9],[1558,-11.4],[1550,-8.9],[1543,0],[1535,2.5],[1528,0],[1520,7.6],[1511,12.7],[1505,23.4],[1497,17.7],[1492,10.1],[1482,3.8],[1473,3.2],[1463,1.9],[1454,3.2],[1444,4.4],[1435,3.8],[1425,5.7],[1416,7],[1406,8.2],[1397,11.4],[1388,10.8],[1378,9.5],[1369,8.2],[1359,7.6],[1350,3.8],[1340,2.5],[1331,0],[1321,2.5],[1312,1.9],[1302,0],[1293,-1.3],[1283,-0.6],[1274,0],[1265,0.6],[1255,-0.6],[1246,-2.5],[1236,-4.4],[1227,-5.7],[1213,-8.2],[1202,-9.5],[1189,-7],[1176,-3.8],[1164,-3.2],[1151,-5.1],[1138,-7],[1126,-8.2],[1113,-8.9],[1100,-7.6],[1085,-5.7],[1066,-3.2],[1051,-1.9],[1038,-3.2],[1024,-5.7],[1013,-4.4],[1000,-5.1],[986,-3.8],[975,-4.4],[962,-2.5],[952,-3.8],[943,-1.3],[930,-1.9],[915,-0.6],[900,0.2]];

// ---------- styling ----------
const SERIF = '"Liberation Serif","DejaVu Serif",serif';
const COL = {
  blue: '#1f78c2', green: '#36a95b', violet: '#c673d0', orange: '#f5a23a', magenta: '#e0298e',
  cyan: '#66bddc', teal: '#3fba97', mint: '#4cbd8d', pinkThin: '#e46aa9', darkGreen: '#21a046', teal3: '#4cc2a2'
};
const THICK = 2.2, THIN = 1.1;
const BAND = ['#e4e4e4', '#cdcdcd', '#b4b4b4'];

// plot-area rectangles [left, top, width, height] for rows x columns
const gridBoxes = [
  [[89, 63, 160, 110], [303, 63, 160, 110], [520, 63, 162, 110], [740, 63, 162, 110]],
  [[88, 242, 161, 110], [302, 242, 161, 111], [520, 242, 162, 111], [742, 242, 162, 111]],
  [[87, 418, 162, 114], [303, 418, 160, 114], [521, 419, 161, 113], [741, 419, 162, 113]]
];

const panels = [
  // Exp. 1
  {y: [-2.05, 1.7], ticks: ticksE1PFBS, dec: 1, bands: bandsE1PFBS, lines: [
    ['E1 -8', e1PFBS_8, COL.green, THIN], ['E1 -7', e1PFBS_7, COL.violet, THIN], ['E1 -6', e1PFBS_6, COL.orange, THIN], ['E1 -5', e1PFBS_5, COL.magenta, THIN], ['E1 -9', e1PFBS_9, COL.blue, THICK]]},
  {y: [-93, 100], ticks: ticksE1PFOA, dec: 0, bands: bandsE1PFOA, lines: [
    ['E1 -8', e1PFOA_8, COL.green, THIN], ['E1 -7', e1PFOA_7, COL.violet, THIN], ['E1 -6', e1PFOA_6, COL.orange, THIN], ['E1 -5', e1PFOA_5, COL.magenta, THIN], ['E1 -9', e1PFOA_9, COL.blue, THICK]]},
  {y: [-22, 18.4], ticks: ticksE1PFOS, dec: 0, bands: bandsE1PFOS, lines: [
    ['E1 -8', e1PFOS_8, COL.green, THIN], ['E1 -7', e1PFOS_7, COL.violet, THIN], ['E1 -6', e1PFOS_6, COL.orange, THIN], ['E1 -5', e1PFOS_5, COL.magenta, THIN], ['E1 -9', e1PFOS_9, COL.blue, THICK]]},
  {y: [-28.3, 30], ticks: ticksE1PFNA, dec: 0, bands: bandsE1PFNA, lines: [
    ['E1 -8', e1PFNA_8, COL.green, THIN], ['E1 -7', e1PFNA_7, COL.violet, THIN], ['E1 -6', e1PFNA_6, COL.orange, THIN], ['E1 -5', e1PFNA_5, COL.magenta, THIN], ['E1 -9', e1PFNA_9, COL.blue, THICK]]},
  // Exp. 2
  {y: [-8.8, 8.3], ticks: ticksE2PFBS, dec: 1, bands: bandsE2PFBS, lines: [
    ['E2 -8', e2PFBS_8, COL.mint, THIN], ['E2 -5', e2PFBS_5, COL.pinkThin, THIN], ['E2 -9', e2PFBS_9, COL.blue, THICK]]},
  {y: [-11.7, 15], ticks: ticksE2PFOA, dec: 0, bands: bandsE2PFOA, lines: [
    ['E2 -8', e2PFOA_8, COL.mint, THIN], ['E2 -5', e2PFOA_5, COL.pinkThin, THIN], ['E2 -9', e2PFOA_9, COL.blue, THICK]]},
  {y: [-17.3, 23.8], ticks: ticksE2PFOS, dec: 0, bands: bandsE2PFOS, lines: [
    ['E2 -9', e2PFOS_9, COL.cyan, THIN], ['E2 -8', e2PFOS_8, COL.teal, THIN], ['E2 -5', e2PFOS_5, COL.magenta, THICK]]},
  {y: [-13.9, 10.9], ticks: ticksE2PFNA, dec: 0, bands: bandsE2PFNA, lines: [
    ['E2 -9', e2PFNA_9, COL.cyan, THIN], ['E2 -8', e2PFNA_8, COL.teal, THIN], ['E2 -5', e2PFNA_5, COL.magenta, THICK]]},
  // Exp. 3
  {y: [-29.7, 25.3], ticks: ticksE3PFBS, dec: 0, bands: bandsE3PFBS, lines: [
    ['E3 -8', e3PFBS_8, COL.teal3, THIN], ['E3 -5', e3PFBS_5, COL.magenta, THICK]]},
  {y: [-14.6, 13.4], ticks: ticksE3PFOA, dec: 0, bands: bandsE3PFOA, lines: [
    ['E3 -5', e3PFOA_5, COL.pinkThin, THIN], ['E3 -8', e3PFOA_8, COL.darkGreen, THICK]]},
  {y: [-15.75, 15.75], ticks: ticksE3PFOS, dec: 0, bands: bandsE3PFOS, lines: [
    ['E3 -8', e3PFOS_8, COL.teal3, THIN], ['E3 -5', e3PFOS_5, COL.magenta, THICK]]},
  {y: [-17.6, 25], ticks: ticksE3PFNA, dec: 0, bands: bandsE3PFNA, lines: [
    ['E3 -8', e3PFNA_8, COL.teal3, THIN], ['E3 -5', e3PFNA_5, COL.magenta, THICK]]}
];

const tickFont = {fontFamily: SERIF, fontWeight: 'bold', fontSize: 8, color: '#222'};
const supRich = {
  a: {fontFamily: SERIF, fontWeight: 'bold', fontSize: 8, color: '#222'},
  s: {fontFamily: SERIF, fontWeight: 'bold', fontSize: 6, color: '#222', padding: [0, 0, 6, 0]}
};

const grids = [], xAxes = [], yAxes = [], series = [], graphics = [];
const xMirror = [], yMirror = [];

panels.forEach((p, i) => {
  const row = Math.floor(i / 4), col = i % 4;
  const [l, t, w, h] = gridBoxes[row][col];
  grids.push({left: l, top: t, width: w, height: h, show: true, backgroundColor: '#fff',
    borderColor: '#333', borderWidth: 1.3, containLabel: false});
  const xa = {
    type: 'value', gridIndex: i, min: 900, max: 1800, inverse: true,
    axisLine: {show: true, onZero: false, lineStyle: {color: '#333', width: 1.3}},
    axisTick: {show: true, inside: true, length: 3, customValues: wavenumberTicks, lineStyle: {color: '#333'}},
    axisLabel: Object.assign({customValues: wavenumberLabels, margin: 6, formatter: v => String(v)}, tickFont),
    splitLine: {show: false}
  };
  if (row === 2) {
    xa.name = '{w|Wavenumber (cm}{e|-1}{w|)}';
    xa.nameLocation = 'middle';
    xa.nameGap = 18;
    xa.nameTextStyle = {rich: {
      w: {fontFamily: SERIF, fontWeight: 'bold', fontSize: 16, color: '#222'},
      e: {fontFamily: SERIF, fontWeight: 'bold', fontSize: 10, color: '#222', padding: [0, 0, 9, 0]}
    }};
  }
  xAxes.push(xa);
  // tick marks along the top edge of the frame
  xMirror.push({type: 'value', gridIndex: i, position: 'top', min: 900, max: 1800, inverse: true,
    axisLine: {show: false}, axisLabel: {show: false}, splitLine: {show: false},
    axisTick: {show: true, inside: true, length: 3, customValues: wavenumberTicks, lineStyle: {color: '#333'}}});

  const ya = {
    type: 'value', gridIndex: i, min: p.y[0], max: p.y[1],
    axisLine: {show: true, onZero: false, lineStyle: {color: '#333', width: 1.3}},
    axisTick: {show: true, inside: true, length: 3, customValues: p.ticks, lineStyle: {color: '#333'}},
    axisLabel: Object.assign({customValues: p.ticks, margin: 5,
      formatter: v => (Math.abs(v) < 1e-9 ? '0' : v.toFixed(p.dec))}, tickFont),
    splitLine: {show: false}
  };
  if (col === 0) {
    ya.name = 'Absorbance (a.u.)';
    ya.nameLocation = 'middle';
    ya.nameGap = 17;
    ya.nameTextStyle = {fontFamily: SERIF, fontWeight: 'bold', fontSize: 13, color: '#222'};
  }
  yAxes.push(ya);
  // tick marks along the right edge of the frame
  yMirror.push({type: 'value', gridIndex: i, position: 'right', min: p.y[0], max: p.y[1],
    axisLine: {show: false}, axisLabel: {show: false}, splitLine: {show: false},
    axisTick: {show: true, inside: true, length: 3, customValues: p.ticks, lineStyle: {color: '#333'}}});

  p.lines.forEach(([name, data, color, width], k) => {
    const s = {
      type: 'line', name, data, xAxisIndex: i, yAxisIndex: i,
      showSymbol: false, symbol: 'none', smooth: 0.2, animation: false, silent: true,
      lineStyle: {color, width}, itemStyle: {color}, z: 3 + k
    };
    if (k === 0) {
      s.markArea = {silent: true, z: 1, itemStyle: {color: BAND[row]},
        data: p.bands.map(b => [{xAxis: b[0]}, {xAxis: b[1]}])};
      s.markLine = {silent: true, symbol: 'none', label: {show: false}, animation: false,
        lineStyle: {color: '#444', width: 1.3, type: 'solid'}, data: [{yAxis: 0}]};
    }
    series.push(s);
  });

  // exponent label above each plot
  graphics.push({type: 'text', left: l - 3, top: t - 12, z: 50,
    style: {text: '{a|x 10}{s|-3}', rich: supRich}});
});

// column frames with compound tabs
const colFrames = [[65, 262], [283, 480], [503, 700], [720, 915]];
colFrames.forEach(([a, b], c) => {
  graphics.push({type: 'rect', shape: {x: a, y: 14, width: b - a, height: 600}, z: -20,
    style: {fill: '#fbfbfb', stroke: '#7a7a7a', lineWidth: 1.2}});
  graphics.push({type: 'text', x: (a + b) / 2, y: 29, z: -19,
    style: {text: compounds[c], fill: '#222', font: 'bold 15px ' + SERIF, textAlign: 'center', textVerticalAlign: 'middle'}});
});

// experiment row frames
const rowFrames = [[43, 199], [222, 377], [398, 568]];
rowFrames.forEach(([a, b], r) => {
  graphics.push({type: 'rect', shape: {x: 8, y: a, width: 1000, height: b - a}, z: -10,
    style: {fill: '#f8f9f9', stroke: '#8a8a8a', lineWidth: 1.5}});
  graphics.push({type: 'text', x: 12, y: a + 14, z: 50,
    style: {text: experiments[r][0], fill: '#111', font: 'bold 16px ' + SERIF, textVerticalAlign: 'middle'}});
  graphics.push({type: 'text', x: 12, y: a + 33, z: 50,
    style: {text: experiments[r][1], fill: '#111', font: 'bold 14px ' + SERIF, textVerticalAlign: 'middle'}});
});

// band keys
graphics.push({type: 'rect', shape: {x: 917, y: 184, width: 11, height: 5}, z: 50, style: {fill: BAND[0]}});
graphics.push({type: 'text', x: 935, y: 187, z: 50,
  style: {text: bandKeys[0], fill: '#222', font: 'bold 9px ' + SERIF, textVerticalAlign: 'middle'}});
graphics.push({type: 'rect', shape: {x: 917, y: 356, width: 11, height: 5}, z: 50, style: {fill: BAND[1]}});
graphics.push({type: 'text', x: 958, y: 358, z: 50,
  style: {text: bandKeys[1], fill: '#222', font: 'bold 9px ' + SERIF, textAlign: 'center', textVerticalAlign: 'middle', lineHeight: 11}});
graphics.push({type: 'rect', shape: {x: 916, y: 557, width: 13, height: 5}, z: 50, style: {fill: BAND[2]}});
graphics.push({type: 'text', x: 937, y: 560, z: 50,
  style: {text: bandKeys[2], fill: '#222', font: 'bold 9px ' + SERIF, textVerticalAlign: 'middle'}});

// legends
const legRich = {
  b: {fontFamily: SERIF, fontWeight: 'bold', fontSize: 10, color: '#222'},
  s: {fontFamily: SERIF, fontWeight: 'bold', fontSize: 7, color: '#222', padding: [0, 0, 8, 0]}
};
function legend(names, colors, top) {
  return {
    orient: 'vertical', left: 924, top, selectedMode: false, icon: 'rect',
    itemWidth: 10, itemHeight: 2.5, itemGap: 1.5,
    backgroundColor: '#fff', borderColor: '#333', borderWidth: 1.2, padding: [4, 40, 4, 3],
    data: names.map((n, k) => ({name: n, itemStyle: {color: colors[k]}})),
    formatter: n => '{b|10}{s|' + n.split(' ')[1] + '}{b| M}',
    textStyle: {rich: legRich, padding: [0, 0, 0, -2]}
  };
}

const chart = echarts.init(document.getElementById('chart'), null, {renderer: 'canvas'});
chart.setOption({
  backgroundColor: '#ffffff',
  animation: false,
  grid: grids, xAxis: xAxes.concat(xMirror), yAxis: yAxes.concat(yMirror), series,
  legend: [
    legend(['E1 -9', 'E1 -8', 'E1 -7', 'E1 -6', 'E1 -5'], [COL.blue, COL.green, COL.violet, COL.orange, COL.magenta], 64),
    legend(['E2 -9', 'E2 -8', 'E2 -5'], [COL.blue, COL.green, COL.magenta], 242),
    legend(['E3 -8', 'E3 -5'], [COL.green, COL.magenta], 420)
  ],
  graphic: {elements: graphics}
});
</script></body></html>
